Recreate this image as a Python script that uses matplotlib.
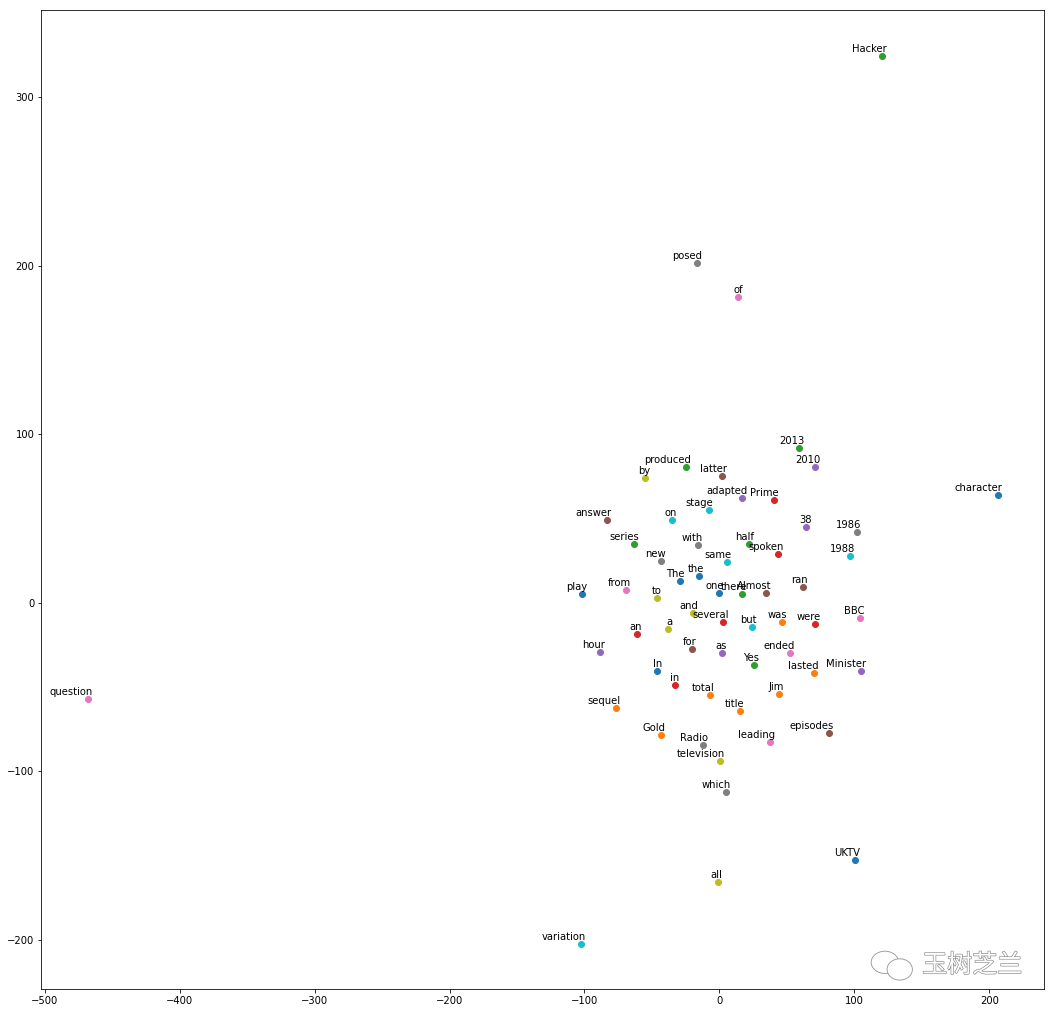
import matplotlib
matplotlib.use("Agg")
import matplotlib.pyplot as plt
import matplotlib.patheffects as pe
from matplotlib.patches import Ellipse

# t-SNE coordinates of the words (order picks the colour from the default cycle)
words = ["character", "was", "Hacker", "Prime", "2010", "latter", "of", "posed", "by", "on",
         "play", "lasted", "2013", "spoken", "adapted", "answer", "from", "1986", "to", "stage",
         "The", "total", "produced", "several", "38", "Almost", "BBC", "with", "and", "1988",
         "the", "Jim", "series", "were", "as", "ran", "ended", "new", "a", "same",
         "one", "sequel", "half", "an", "hour", "for", "question", "Radio", "television", "but",
         "In", "title", "there", "in", "Minister", "episodes", "leading", "which", "all", "variation",
         "UKTV", "Gold", "Yes"]

x_vals = [206.1, 46.7, 120.2, 40.2, 71.1, 1.7, 13.6, -16.8, -55.3, -35.3,
          -102.0, 69.9, 59.3, 43.7, 17.0, -83.5, -69.4, 101.7, -46.4, -8.0,
          -29.4, -7.1, -24.4, 3.0, 64.4, 34.8, 103.9, -16.0, -19.5, 96.5,
          -15.3, 44.4, -63.4, 71.1, 1.7, 61.8, 52.1, -43.4, -38.2, 5.4,
          -0.5, -76.8, 22.2, -61.2, -88.6, -20.5, -468.1, -12.3, 0.2, 23.9,
          -46.4, 15.1, 17.0, -33.1, 104.7, 81.0, 37.3, 4.7, -1.3, -102.4,
          100.2, -43.4, 25.4]

y_vals = [63.7, -11.7, 324.4, 60.9, 80.5, 75.2, 181.1, 201.3, 73.8, 49.0,
          5.0, -42.0, 91.7, 28.8, 62.1, 49.2, 7.4, 41.9, 2.6, 55.0,
          12.7, -55.1, 80.5, -11.7, 44.9, 5.6, -9.3, 34.1, -6.3, 27.8,
          15.7, -54.5, 34.7, -12.7, -30.1, 9.2, -30.1, 24.6, -15.8, 24.0,
          5.6, -62.8, 34.7, -18.8, -29.5, -27.7, -57.5, -84.8, -93.8, -14.3,
          -40.8, -64.6, 5.2, -49.1, -40.8, -77.1, -83.0, -112.2, -166.0, -202.6,
          -152.6, -78.3, -37.2]


def main():
    fig = plt.figure(figsize=(1056 / 72, 1013 / 72), dpi=72)
    ax = fig.add_axes([0.0391, 0.0234, 0.9495, 0.9664])

    for i in range(len(x_vals)):
        ax.scatter(x_vals[i], y_vals[i])
        ax.annotate(words[i], xy=(x_vals[i], y_vals[i]), xytext=(5, 2),
                    textcoords="offset points", ha="right", va="bottom")

    ax.set_xlim(-502.5, 240.5)
    ax.set_ylim(-229.5, 351.5)

    # watermark in the lower right corner
    fig.text(0.968, 0.047, "玉树芝兰", fontsize=25, color="white",
             family=["Noto Sans CJK SC", "DejaVu Sans"], ha="right", va="center",
             path_effects=[pe.withStroke(linewidth=1.3, foreground="#8a8a8a")])
    fig.patches.append(Ellipse((0.838, 0.050), 0.026, 0.022, transform=fig.transFigure,
                               fill=False, ec="#9a9a9a", lw=0.9))
    fig.patches.append(Ellipse((0.852, 0.043), 0.024, 0.021, transform=fig.transFigure,
                               facecolor="white", ec="#9a9a9a", lw=0.9))

    fig.savefig("out.png", dpi=72)
    plt.close(fig)


if __name__ == "__main__":
    main()
